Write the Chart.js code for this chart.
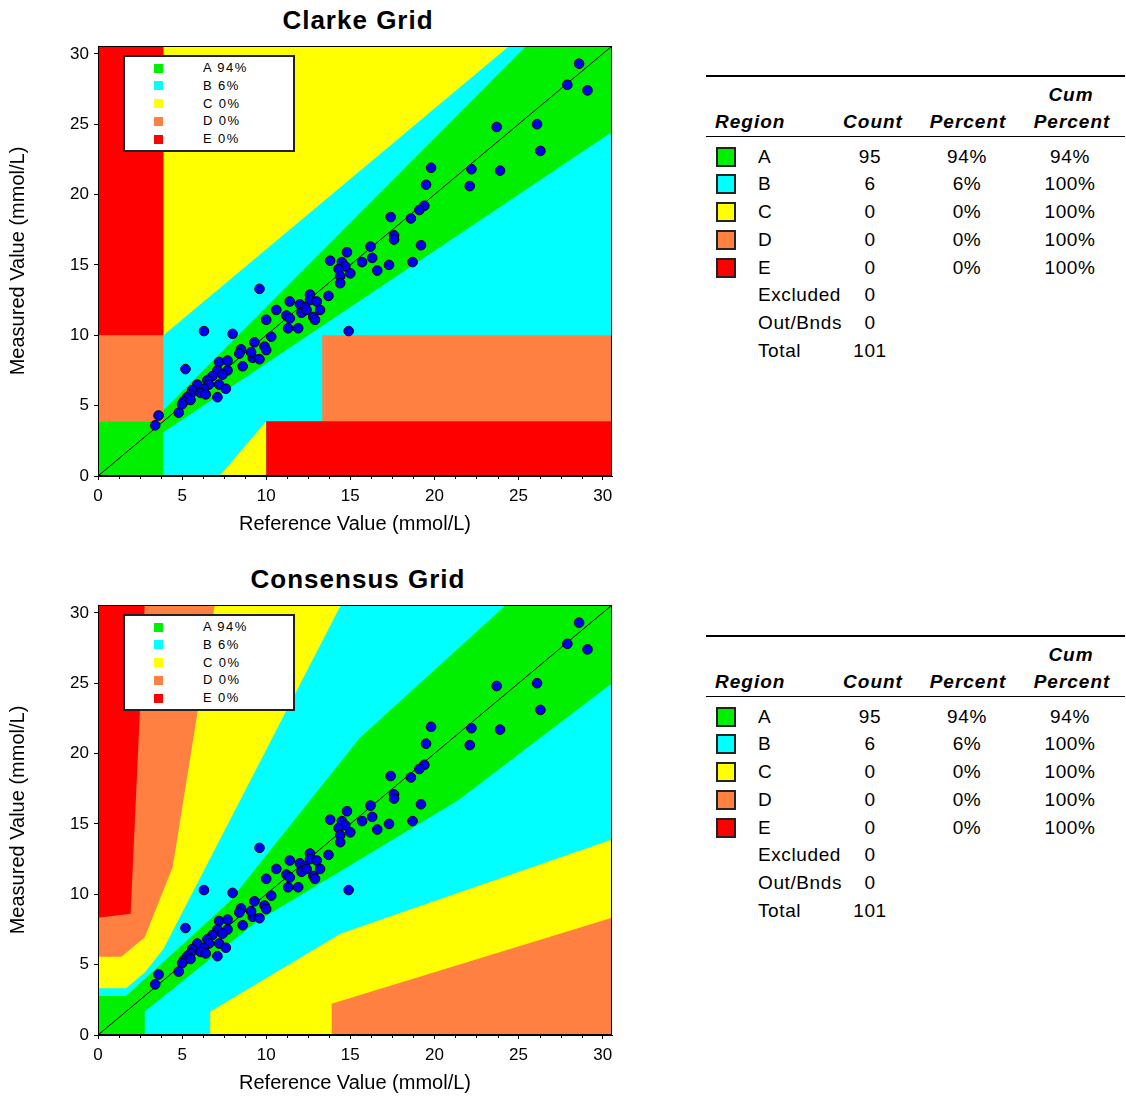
<!DOCTYPE html>
<html>
<head>
<meta charset="utf-8">
<script src="https://cdn.jsdelivr.net/npm/chart.js@4"></script>
<style>
  body { margin: 0; background: #fff; font-family: "Liberation Sans", Arial, sans-serif; color: #000; }
  #page { position: relative; width: 1126px; height: 1099px; overflow: hidden; }
  canvas.grid { position: absolute; left: 0; }
  .title { position: absolute; left: 158px; width: 400px; text-align: center; font-weight: bold; font-size: 26px; letter-spacing: 1px; line-height: 30px; }
  .legendBox { position: absolute; left: 123px; width: 168px; height: 93px; background: #fff; border: 2px solid #222; }
  .legendBox .sw { position: absolute; left: 29px; width: 9px; height: 9px; }
  .legendBox .lbl { position: absolute; left: 78px; font-size: 13px; letter-spacing: 1.4px; line-height: 16px; }
  .t { position: absolute; white-space: nowrap; line-height: 28px; font-size: 19px; letter-spacing: 0.6px; }
  .th { font-weight: bold; font-style: italic; letter-spacing: 1px; }
  .rule { position: absolute; left: 706px; width: 419px; background: #000; }
  .swatch { position: absolute; left: 716px; width: 16px; height: 16px; border: 2px solid #222; }
</style>
</head>
<body>
<div id="page">
  <div class="title" style="top:5px">Clarke Grid</div>
  <canvas id="clarke" class="grid" width="640" height="545" style="top:0"></canvas>
  <div class="title" style="top:564px">Consensus Grid</div>
  <canvas id="consensus" class="grid" width="640" height="545" style="top:559px"></canvas>
</div>
<script>
// axis limit is 550 mg/dL in mmol/L
const MAX = 550 / 18;
const axisTicks = [0, 5, 10, 15, 20, 25, 30];
const minorStep = 1.25;

// paired readings (mmol/L)
const refValues = [28.6, 27.9, 29.1, 26.1, 23.7, 26.3, 22.2, 23.9, 19.8, 19.5, 22.1, 19.4, 19.1, 17.4, 18.6,
  17.6, 17.6, 19.2, 16.2, 16.3, 17.3, 18.7, 16.6, 15.7, 14.8, 13.8, 14.5, 14.7, 14.3, 15.0, 14.4, 14.4,
  9.6, 12.6, 13.7, 11.4, 12.0, 12.6, 13.0, 12.3, 12.1, 12.4, 13.2, 12.8, 12.9, 10.6, 11.2, 11.4, 10.0,
  11.3, 11.9, 14.9, 10.3, 9.3, 9.9, 6.3, 8.0, 5.2, 8.5, 8.4, 9.2, 9.6, 8.6, 7.2, 7.7, 7.1, 7.7, 7.4,
  6.8, 6.5, 5.9, 6.6, 7.2, 6.3, 5.6, 7.6, 5.5, 6.1, 6.4, 7.1, 5.3, 5.1, 5.5, 5.0, 4.8, 3.6, 3.4, 9.1, 10.0];
const measValues = [29.3, 27.8, 27.4, 25.0, 24.8, 23.1, 21.8, 21.7, 21.9, 20.7, 20.6, 19.2, 18.9, 18.4, 18.3,
  17.1, 16.8, 16.4, 16.3, 15.5, 15.0, 15.2, 14.6, 15.2, 15.9, 15.3, 15.2, 14.9, 14.7, 14.4, 14.2, 13.7,
  13.3, 12.9, 12.8, 12.4, 12.2, 12.5, 12.4, 12.0, 11.6, 11.8, 11.8, 11.3, 11.1, 11.8, 11.4, 11.2, 11.1,
  10.5, 10.5, 10.3, 9.9, 9.5, 9.2, 10.3, 10.1, 7.6, 9.0, 8.7, 8.4, 8.3, 7.8, 8.1, 8.2, 7.5, 7.5, 7.2,
  7.1, 6.8, 6.5, 6.5, 6.5, 6.2, 6.1, 6.2, 5.8, 5.9, 5.8, 5.6, 5.6, 5.3, 5.4, 5.1, 4.5, 4.3, 3.6, 8.8, 8.95];

// summary table
const regionNames = ['A', 'B', 'C', 'D', 'E'];
const regionColors = ['#00f000', '#00ffff', '#ffff00', '#ff8040', '#ff0000'];
const regionCounts = [95, 6, 0, 0, 0];
const regionPercents = [94, 6, 0, 0, 0];
const regionCumPercents = [94, 100, 100, 100, 100];
const extraLabels = ['Excluded', 'Out/Bnds', 'Total'];
const extraCounts = [0, 0, 101];

// Clarke zone outlines (mmol/L), painted over a zone A background
const clarkeUpperB = [[0, 3.89], [3.24, 3.89], [MAX / 1.2, MAX], [0, MAX]];
const clarkeUpperC = [[3.89, 10], [MAX - 6.11, MAX], [3.89, MAX]];
const clarkeUpperD = [[0, 3.89], [3.89, 3.89], [3.89, 10], [0, 10]];
const clarkeUpperE = [[0, 10], [3.89, 10], [3.89, MAX], [0, MAX]];
const clarkeLowerB = [[3.89, 0], [3.89, 3.11], [MAX, MAX * 0.8], [MAX, 0]];
const clarkeLowerC = [[7.22, 0], [10, 3.89], [10, 0]];
const clarkeLowerD = [[13.33, 3.89], [MAX, 3.89], [MAX, 10], [13.33, 10]];
const clarkeLowerE = [[10, 0], [MAX, 0], [MAX, 3.89], [10, 3.89]];

// Consensus (Parkes, type 1) zone outlines (mmol/L)
const parkesUpperB = [[0, 2.78], [1.67, 2.78], [7.78, 9.44], [15.56, 21.11], [24.26, MAX], [0, MAX]];
const parkesUpperC = [[0, 3.33], [1.67, 3.33], [2.78, 4.44], [3.89, 6.11], [14.44, MAX], [0, MAX]];
const parkesUpperD = [[0, 5.56], [1.39, 5.56], [2.78, 6.94], [4.44, 11.94], [6.94, MAX], [0, MAX]];
const parkesUpperE = [[0, 8.33], [1.94, 8.61], [2.78, MAX], [0, MAX]];
const parkesLowerB = [[2.78, 0], [2.78, 1.67], [9.44, 8.06], [21.39, 16.67], [MAX, 25], [MAX, 0]];
const parkesLowerC = [[6.67, 0], [6.67, 1.67], [14.44, 7.22], [MAX, 13.89], [MAX, 0]];
const parkesLowerD = [[13.89, 0], [13.89, 2.22], [MAX, 8.33], [MAX, 0]];

const fullArea = [[0, 0], [MAX, 0], [MAX, MAX], [0, MAX]];
const diagonal = [[0, 0], [MAX, MAX]];

const [cA, cB, cC, cD, cE] = regionColors;
const clarkeZones = [
  [fullArea, cA], [clarkeUpperB, cB], [clarkeUpperC, cC], [clarkeUpperD, cD], [clarkeUpperE, cE],
  [clarkeLowerB, cB], [clarkeLowerC, cC], [clarkeLowerD, cD], [clarkeLowerE, cE]
];
const parkesZones = [
  [fullArea, cA], [parkesUpperB, cB], [parkesUpperC, cC], [parkesUpperD, cD], [parkesUpperE, cE],
  [parkesLowerB, cB], [parkesLowerC, cC], [parkesLowerD, cD]
];

const toPts = arr => arr.map(([x, y]) => ({ x, y }));

// frame round the plot and the small x ticks
const framePlugin = {
  id: 'frame',
  afterDatasetsDraw(chart) {
    const { ctx, chartArea: a, scales: { x } } = chart;
    ctx.save();
    ctx.strokeStyle = '#000';
    ctx.lineWidth = 1;
    ctx.strokeRect(a.left + 0.5, a.top + 0.5, a.right - a.left - 1, a.bottom - a.top - 1);
    ctx.beginPath();
    for (let v = minorStep; v < 30; v += minorStep) {
      if (v % 5 === 0) continue;
      const px = Math.round(x.getPixelForValue(v)) + 0.5;
      ctx.moveTo(px, a.bottom);
      ctx.lineTo(px, a.bottom + 3);
    }
    ctx.stroke();
    ctx.restore();
  }
};

function makeChart(id, zones) {
  const datasets = zones.map(([poly, color], i) => ({
    type: 'line',
    data: toPts(poly),
    fill: 'shape',
    backgroundColor: color,
    borderColor: 'rgba(0,0,0,0)',
    borderWidth: 0,
    pointRadius: 0,
    tension: 0,
    order: 100 - i
  }));
  datasets.push({
    type: 'line',
    data: toPts(diagonal),
    borderColor: '#000',
    borderWidth: 1,
    pointRadius: 0,
    fill: false,
    order: 1
  });
  datasets.push({
    type: 'scatter',
    data: refValues.map((x, i) => ({ x, y: measValues[i] })),
    pointRadius: 4.8,
    pointBackgroundColor: '#0000f0',
    pointBorderColor: '#000',
    pointBorderWidth: 1,
    order: 0
  });

  const axisBase = {
    type: 'linear',
    min: 0,
    max: MAX,
    afterBuildTicks: s => { s.ticks = axisTicks.map(v => ({ value: v })); },
    grid: { drawOnChartArea: false, drawTicks: true, tickLength: 4, color: '#000' },
    border: { display: true, color: '#000' },
    ticks: { color: '#000', font: { family: 'Liberation Sans', size: 17 } }
  };

  return new Chart(document.getElementById(id), {
    type: 'scatter',
    data: { datasets },
    plugins: [framePlugin],
    options: {
      responsive: false,
      animation: false,
      devicePixelRatio: 1,
      layout: { padding: { top: 46, right: 28, left: 0, bottom: 0 } },
      plugins: { legend: { display: false }, tooltip: { enabled: false } },
      scales: {
        x: {
          ...axisBase,
          ticks: { ...axisBase.ticks, padding: 6 },
          title: { display: true, text: 'Reference Value (mmol/L)', color: '#000',
            font: { family: 'Liberation Sans', size: 20 }, padding: { top: 0, bottom: 9 } },
          afterFit: s => { s.height = 69; }
        },
        y: {
          ...axisBase,
          ticks: { ...axisBase.ticks, padding: 5 },
          title: { display: true, text: 'Measured Value (mmol/L)', color: '#000',
            font: { family: 'Liberation Sans', size: 20 }, padding: { top: 6, bottom: 0 } },
          afterFit: s => { s.width = 98; }
        }
      }
    }
  });
}

makeChart('clarke', clarkeZones);
makeChart('consensus', parkesZones);

const page = document.getElementById('page');
function addDiv(cls, style, text) {
  const d = document.createElement('div');
  d.className = cls;
  d.setAttribute('style', style);
  if (text !== undefined) d.textContent = text;
  page.appendChild(d);
  return d;
}

// small legend inside each plot
function addLegend(top) {
  const box = addDiv('legendBox', `top:${top}px`);
  regionNames.forEach((n, i) => {
    const cy = 11 + i * 17.8;
    const sw = document.createElement('div');
    sw.className = 'sw';
    sw.style.top = (cy - 4.5) + 'px';
    sw.style.background = regionColors[i];
    box.appendChild(sw);
    const lb = document.createElement('div');
    lb.className = 'lbl';
    lb.style.top = (cy - 8) + 'px';
    lb.textContent = `${n} ${regionPercents[i]}%`;
    box.appendChild(lb);
  });
}
addLegend(55);
addLegend(614);

function centered(cx, cy, text, cls) {
  addDiv('t ' + (cls || ''), `left:${cx - 100}px;width:200px;text-align:center;top:${cy - 14}px`, text);
}

// summary table to the right of each plot
function addTable(T) {
  addDiv('rule', `top:${T - 1}px;height:2px`);
  centered(1071, T + 19, 'Cum', 'th');
  addDiv('t th', `left:715px;top:${T + 45.5 - 14}px`, 'Region');
  centered(873, T + 45.5, 'Count', 'th');
  centered(968, T + 45.5, 'Percent', 'th');
  centered(1072, T + 45.5, 'Percent', 'th');
  addDiv('rule', `top:${T + 59.5}px;height:1.5px`);
  regionNames.forEach((n, i) => {
    const cy = T + 80.5 + i * 27.75;
    addDiv('swatch', `top:${cy - 10}px;background:${regionColors[i]}`);
    addDiv('t', `left:758px;top:${cy - 14}px`, n);
    centered(870, cy, String(regionCounts[i]));
    centered(967, cy, regionPercents[i] + '%');
    centered(1070, cy, regionCumPercents[i] + '%');
  });
  extraLabels.forEach((n, i) => {
    const cy = T + 80.5 + (i + 5) * 27.75;
    addDiv('t', `left:758px;top:${cy - 14}px`, n);
    centered(870, cy, String(extraCounts[i]));
  });
}
addTable(76);
addTable(636);
</script>
</body>
</html>
